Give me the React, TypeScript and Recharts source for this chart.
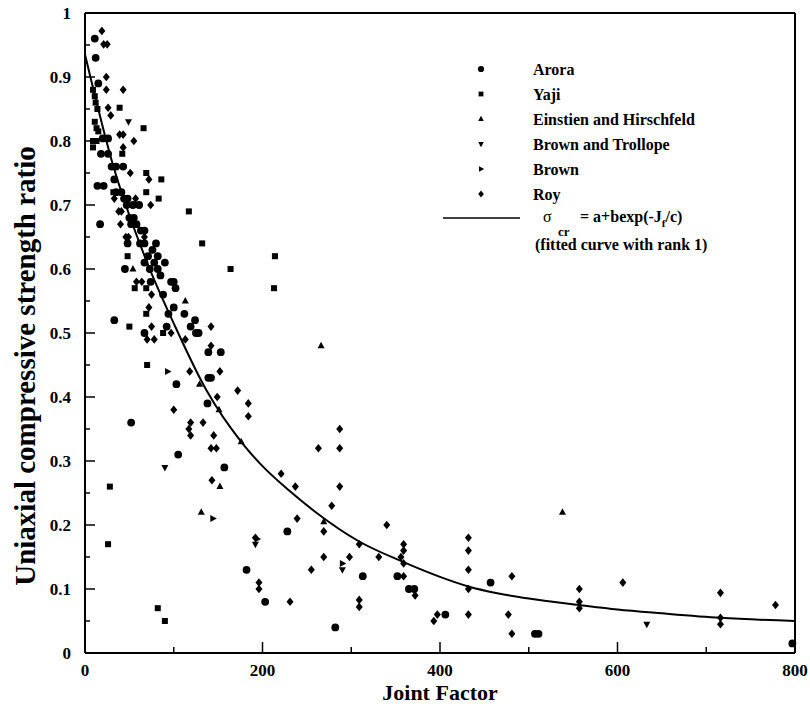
import { ComposedChart, Scatter, Line, XAxis, YAxis, ReferenceLine, Label } from 'recharts';

// joint factor / strength ratio pairs
const arora: [number, number][] = [
  [11, 0.96], [12, 0.93], [15, 0.89], [20, 0.804], [26, 0.804], [18, 0.78], [26, 0.78], [30, 0.76], [35, 0.76],
  [43, 0.76], [14, 0.73], [21, 0.73], [33, 0.74], [35, 0.72], [41, 0.72], [44, 0.71], [48, 0.71], [47, 0.7],
  [54, 0.7], [61, 0.7], [17, 0.67], [50, 0.68], [55, 0.68], [52, 0.67], [58, 0.67], [63, 0.66], [67, 0.66],
  [48, 0.64], [62, 0.64], [67, 0.64], [80, 0.64], [76, 0.63], [71, 0.62], [82, 0.62], [67, 0.61], [78, 0.61],
  [90, 0.61], [45, 0.6], [73, 0.6], [82, 0.6], [85, 0.59], [74, 0.58], [97, 0.58], [100, 0.58], [102, 0.57],
  [88, 0.56], [100, 0.54], [94, 0.53], [112, 0.53], [33, 0.52], [124, 0.52], [92, 0.51], [119, 0.51], [67, 0.5],
  [125, 0.5], [128, 0.5], [139, 0.47], [153, 0.47], [139, 0.43], [142, 0.43], [103, 0.42], [138, 0.39], [52, 0.36],
  [105, 0.31], [157, 0.29], [228, 0.19], [182, 0.13], [203, 0.08], [282, 0.04], [313, 0.12], [352, 0.12],
  [365, 0.1], [371, 0.1], [406, 0.06], [457, 0.11], [507, 0.03], [511, 0.03], [797, 0.015],
];

const yaji: [number, number][] = [
  [9, 0.88], [11, 0.87], [12, 0.86], [14, 0.85], [11, 0.83], [13, 0.82], [15, 0.815], [39, 0.852], [66, 0.82],
  [9, 0.8], [13, 0.8], [9, 0.79], [42, 0.78], [69, 0.75], [86, 0.74], [32, 0.72], [69, 0.72], [83, 0.71],
  [117, 0.69], [132, 0.64], [48, 0.62], [164, 0.6], [214, 0.62], [213, 0.57], [56, 0.57], [69, 0.57], [69, 0.53],
  [50, 0.51], [88, 0.5], [70, 0.45], [28, 0.26], [26, 0.17], [82, 0.07], [90, 0.05],
];

const einstien: [number, number][] = [
  [54, 0.6], [113, 0.55], [129, 0.42], [151, 0.38], [152, 0.26], [131, 0.22], [176, 0.33], [266, 0.48],
  [269, 0.205], [538, 0.22],
];

const brownTrollope: [number, number][] = [[49, 0.83], [90, 0.29], [192, 0.17], [290, 0.13], [633, 0.045]];

const brown: [number, number][] = [[93, 0.44], [144, 0.21], [290, 0.14], [194, 0.178]];

const roy: [number, number][] = [
  [19, 0.972], [21, 0.951], [25, 0.951], [24, 0.9], [24, 0.88], [43, 0.88], [26, 0.852], [29, 0.84], [39, 0.81],
  [43, 0.81], [55, 0.8], [43, 0.79], [51, 0.75], [72, 0.74], [33, 0.71], [57, 0.71], [38, 0.69], [41, 0.69],
  [74, 0.7], [40, 0.67], [46, 0.65], [49, 0.65], [67, 0.65], [58, 0.58], [64, 0.58], [75, 0.56], [72, 0.54],
  [75, 0.51], [142, 0.51], [97, 0.5], [70, 0.49], [78, 0.49], [113, 0.49], [142, 0.48], [118, 0.44], [152, 0.44],
  [172, 0.41], [149, 0.4], [184, 0.39], [184, 0.37], [100, 0.38], [119, 0.36], [117, 0.35], [119, 0.34],
  [133, 0.36], [145, 0.34], [142, 0.32], [148, 0.32], [221, 0.28], [143, 0.27], [192, 0.18], [196, 0.11],
  [196, 0.1], [231, 0.08], [237, 0.26], [287, 0.35], [263, 0.32], [287, 0.32], [287, 0.26], [278, 0.23],
  [239, 0.21], [269, 0.19], [269, 0.15], [255, 0.13], [298, 0.15], [309, 0.17], [309, 0.083], [309, 0.072],
  [340, 0.2], [331, 0.15], [359, 0.17], [359, 0.16], [356, 0.15], [359, 0.14], [359, 0.12], [372, 0.09],
  [393, 0.05], [397, 0.06], [432, 0.18], [432, 0.16], [432, 0.13], [432, 0.1], [432, 0.06], [481, 0.12],
  [477, 0.06], [481, 0.03], [557, 0.1], [557, 0.08], [557, 0.07], [606, 0.11], [716, 0.094], [716, 0.055],
  [716, 0.045], [778, 0.075],
];

// fitted curve
const fitJ = [0, 30, 70, 100, 137, 176, 200, 229, 260, 308, 359, 400, 432, 466, 500, 557, 600, 650, 716, 800];
const fitR = [0.935, 0.77, 0.61, 0.515, 0.41, 0.33, 0.292, 0.255, 0.22, 0.175, 0.142, 0.119, 0.104, 0.093, 0.085, 0.075, 0.068, 0.062, 0.055, 0.05];

const xTicks = [0, 100, 200, 300, 400, 500, 600, 700, 800];
const yTicks = [0, 0.05, 0.1, 0.15, 0.2, 0.25, 0.3, 0.35, 0.4, 0.45, 0.5, 0.55, 0.6, 0.65, 0.7, 0.75, 0.8, 0.85, 0.9, 0.95, 1];

const FONT = '"Liberation Serif", "Times New Roman", serif';
const Y_GAP = 14;
const X_GAP = 11;

type Kind = 'circle' | 'square' | 'up' | 'down' | 'right' | 'diamond';

const series: { name: string; kind: Kind; pts: [number, number][] }[] = [
  { name: 'Arora', kind: 'circle', pts: arora },
  { name: 'Yaji', kind: 'square', pts: yaji },
  { name: 'Einstien and Hirschfeld', kind: 'up', pts: einstien },
  { name: 'Brown and Trollope', kind: 'down', pts: brownTrollope },
  { name: 'Brown', kind: 'right', pts: brown },
  { name: 'Roy', kind: 'diamond', pts: roy },
];

const toXY = (pts: [number, number][]) => pts.map(([x, y]) => ({ x, y }));
const fitData = fitJ.map((x, i) => ({ x, y: fitR[i] }));

function Marker({ kind, cx, cy, s = 1 }: { kind: Kind; cx: number; cy: number; s?: number }) {
  const f = '#000';
  switch (kind) {
    case 'circle':
      return <circle cx={cx} cy={cy} r={3.9 * s} fill={f} />;
    case 'square':
      return <rect x={cx - 3 * s} y={cy - 3 * s} width={6 * s} height={6 * s} fill={f} />;
    case 'up':
      return <polygon points={`${cx},${cy - 4 * s} ${cx + 3.5 * s},${cy + 2.5 * s} ${cx - 3.5 * s},${cy + 2.5 * s}`} fill={f} />;
    case 'down':
      return <polygon points={`${cx},${cy + 4 * s} ${cx + 3.5 * s},${cy - 2.5 * s} ${cx - 3.5 * s},${cy - 2.5 * s}`} fill={f} />;
    case 'right':
      return <polygon points={`${cx + 4 * s},${cy} ${cx - 2.5 * s},${cy - 3.5 * s} ${cx - 2.5 * s},${cy + 3.5 * s}`} fill={f} />;
    default:
      return <polygon points={`${cx},${cy - 4.3 * s} ${cx + 3.5 * s},${cy} ${cx},${cy + 4.3 * s} ${cx - 3.5 * s},${cy}`} fill={f} />;
  }
}

const fmt = (v: number) => String(Number(v.toFixed(2)));

function YTick(props: any) {
  const { x, y, payload } = props;
  const v = payload.value as number;
  const major = Math.abs(v * 10 - Math.round(v * 10)) < 1e-6;
  const ax = x + Y_GAP;
  return (
    <g>
      <line x1={ax} x2={ax + (major ? 10 : 5)} y1={y} y2={y} stroke="#000" strokeWidth={1.5} />
      {major && (
        <text x={x} y={y} dy="0.35em" textAnchor="end" fontFamily={FONT} fontWeight="bold" fontSize={17} fill="#000">
          {fmt(v)}
        </text>
      )}
    </g>
  );
}

function XTick(props: any) {
  const { x, y, payload } = props;
  const v = payload.value as number;
  const major = v % 200 === 0;
  const ay = y - X_GAP;
  return (
    <g>
      <line x1={x} x2={x} y1={ay} y2={ay - (major ? 11 : 6)} stroke="#000" strokeWidth={1.5} />
      {major && (
        <text x={x} y={y} dy="0.71em" textAnchor="middle" fontFamily={FONT} fontWeight="bold" fontSize={17} fill="#000">
          {v}
        </text>
      )}
    </g>
  );
}

function LegendBox() {
  const txt = { fontFamily: FONT, fontWeight: 'bold' as const, fontSize: 16, fill: '#000' };
  return (
    <div style={{ position: 'absolute', left: 438, top: 58 }}>
      <svg width={330} height={210}>
        {series.map((s, i) => (
          <g key={s.name}>
            <Marker kind={s.kind} cx={43} cy={11 + i * 25} s={0.8} />
            <text x={95} y={11 + i * 25} dy="0.35em" {...txt}>{s.name}</text>
          </g>
        ))}
        <line x1={5} x2={82} y1={160} y2={160} stroke="#000" strokeWidth={1.5} />
        <text x={105} y={164} {...txt} fontWeight="normal">σ</text>
        <text x={120} y={178} {...txt} fontSize={13}>cr</text>
        <text x={142} y={164} {...txt}>
          = a+bexp(-J<tspan dy={5} fontSize={11}>f</tspan><tspan dy={-5}>/c)</tspan>
        </text>
        <text x={97} y={192} {...txt}>(fitted curve with rank 1)</text>
      </svg>
    </div>
  );
}

export default function App() {
  return (
    <div style={{ position: 'relative', width: 810, height: 711, background: '#fff', overflow: 'hidden' }}>
      <style>{'html, body { margin: 0; padding: 0; overflow: hidden; }'}</style>
      <ComposedChart width={810} height={711} margin={{ top: 13, right: 15, left: 13, bottom: 28 }}>
        <XAxis
          dataKey="x"
          type="number"
          domain={[0, 800]}
          ticks={xTicks}
          tick={<XTick />}
          tickLine={false}
          tickSize={0}
          tickMargin={X_GAP}
          height={30}
          axisLine={{ stroke: '#000', strokeWidth: 2 }}
          interval={0}
        >
          <Label
            content={({ viewBox }: any) => (
              <text
                x={viewBox.x + viewBox.width / 2}
                y={viewBox.y + viewBox.height + 17}
                textAnchor="middle"
                fontFamily={FONT}
                fontWeight="bold"
                fontSize={22}
                fill="#000"
              >
                Joint Factor
              </text>
            )}
          />
        </XAxis>
        <YAxis
          dataKey="y"
          type="number"
          domain={[0, 1]}
          ticks={yTicks}
          tick={<YTick />}
          tickLine={false}
          tickSize={0}
          tickMargin={Y_GAP}
          width={72}
          axisLine={{ stroke: '#000', strokeWidth: 2 }}
          interval={0}
        >
          <Label
            content={({ viewBox }: any) => {
              const cx = viewBox.x + 22;
              const cy = viewBox.y + viewBox.height / 2 + 33;
              return (
                <text
                  x={cx}
                  y={cy}
                  transform={`rotate(-90, ${cx}, ${cy})`}
                  textAnchor="middle"
                  fontFamily={FONT}
                  fontWeight="bold"
                  fontSize={29}
                  fill="#000"
                >
                  Uniaxial compressive strength ratio
                </text>
              );
            }}
          />
        </YAxis>
        <ReferenceLine y={1} stroke="#000" strokeWidth={2} />
        <ReferenceLine x={800} stroke="#000" strokeWidth={2} />
        <Line
          data={fitData}
          dataKey="y"
          type="monotone"
          stroke="#000"
          strokeWidth={2}
          dot={false}
          activeDot={false}
          isAnimationActive={false}
        />
        {series.map((s) => (
          <Scatter
            key={s.name}
            name={s.name}
            data={toXY(s.pts)}
            dataKey="y"
            isAnimationActive={false}
            shape={(p: any) => <Marker kind={s.kind} cx={p.cx} cy={p.cy} />}
          />
        ))}
      </ComposedChart>
      <LegendBox />
    </div>
  );
}
